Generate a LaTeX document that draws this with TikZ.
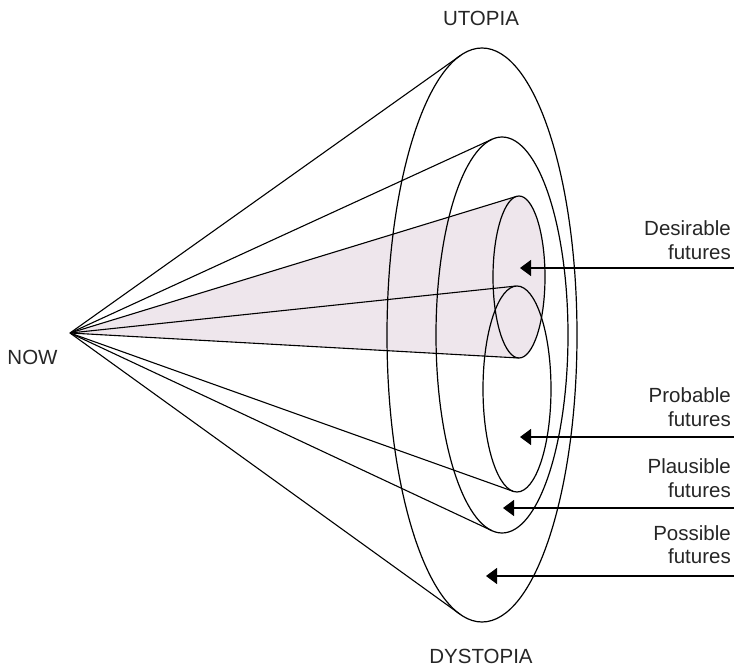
\documentclass[tikz,border=0pt]{standalone}
\usepackage{fontspec}
\setmainfont{Liberation Sans}
\usetikzlibrary{arrows.meta}
\definecolor{conefill}{RGB}{238,230,236}
\tikzset{
  outline/.style={draw=black, line width=1.2pt},
  ray/.style={draw=black, line width=1.1pt},
  pointer/.style={draw=black, line width=1.2pt, -{Triangle[length=11pt,width=16pt]}},
  caption/.style={font=\fontsize{20.5}{24}\selectfont, inner sep=0pt, text=black!85},
  sidelabel/.style={caption, anchor=base east},
}
\begin{document}
\begin{tikzpicture}[x=1pt,y=-1pt]
\useasboundingbox (0,0) rectangle (734,666);

% apex of all the cones
\coordinate (now) at (70,333);

% ellipse centres
\coordinate (possC) at (482,335);
\coordinate (plauC) at (502,335);
\coordinate (probC) at (517,389);
\coordinate (desC)  at (519,277);

% tangent points of the rays from the apex
\path (possC) ++(256.76:95 and 287) coordinate (possT);
\path (possC) ++(103.42:95 and 287) coordinate (possB);
\path (plauC) ++(261.30:66 and 198) coordinate (plauT);
\path (plauC) ++(98.88:66 and 198)  coordinate (plauB);
\path (probC) ++(268.01:34 and 103) coordinate (probT);
\path (probC) ++(96.73:34 and 103)  coordinate (probB);
\path (desC)  ++(264.39:26 and 81)  coordinate (desT);
\path (desC)  ++(91.03:26 and 81)   coordinate (desB);

% shaded cone of desirable futures
\fill[conefill] (now) -- (desT) -- (desB) -- cycle;
\fill[conefill] (desC) ellipse [x radius=26, y radius=81];

% cone outlines
\draw[outline] (possC) ellipse [x radius=95, y radius=287];
\draw[outline] (plauC) ellipse [x radius=66, y radius=198];
\draw[outline] (probC) ellipse [x radius=34, y radius=103];
\draw[outline] (desC)  ellipse [x radius=26, y radius=81];

\draw[ray] (now) -- (possT);
\draw[ray] (now) -- (possB);
\draw[ray] (now) -- (plauT);
\draw[ray] (now) -- (plauB);
\draw[ray] (now) -- (probT);
\draw[ray] (now) -- (probB);
\draw[ray] (now) -- (desT);
\draw[ray] (now) -- (desB);

% pointers from the labels into each region
\coordinate (desTip)  at (520,268);
\coordinate (probTip) at (520,437);
\coordinate (plauTip) at (503,508);
\coordinate (possTip) at (486,576);
\coordinate (desEnd)  at (734,268);
\coordinate (probEnd) at (734,437);
\coordinate (plauEnd) at (734,508);
\coordinate (possEnd) at (734,576);
\draw[pointer] (desEnd)  -- (desTip);
\draw[pointer] (probEnd) -- (probTip);
\draw[pointer] (plauEnd) -- (plauTip);
\draw[pointer] (possEnd) -- (possTip);

% labels
\node[caption, anchor=base] (utopia) at (481,26) {UTOPIA};
\node[caption, anchor=base] (dystopia) at (481,663) {DYSTOPIA};
\node[caption, anchor=base] (nowlabel) at (32.5,364) {NOW};

\node[sidelabel] (des1)  at (731,236) {Desirable};
\node[sidelabel] (des2)  at (731,259.5) {futures};
\node[sidelabel] (prob1) at (731,402.5) {Probable};
\node[sidelabel] (prob2) at (731,426) {futures};
\node[sidelabel] (plau1) at (731,473.5) {Plausible};
\node[sidelabel] (plau2) at (731,497) {futures};
\node[sidelabel] (poss1) at (731,540) {Possible};
\node[sidelabel] (poss2) at (731,563.5) {futures};
\end{tikzpicture}
\end{document}
